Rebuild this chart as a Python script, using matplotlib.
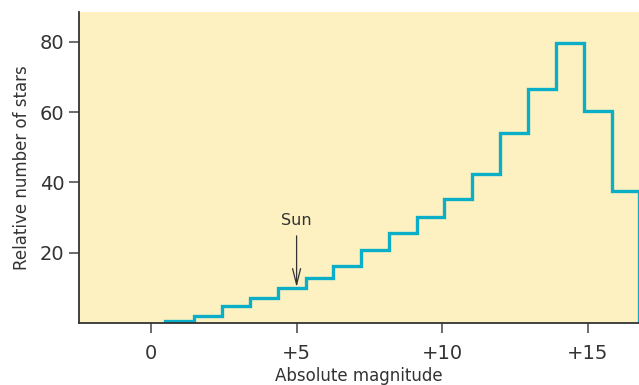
import matplotlib
matplotlib.use("Agg")
import matplotlib.pyplot as plt

# bin edges (absolute magnitude) and relative number of stars per bin
edges = [0.50, 1.49, 2.43, 3.40, 4.37, 5.32, 6.26, 7.21, 8.17, 9.12,
         10.07, 11.02, 11.98, 12.93, 13.90, 14.86, 15.83, 16.75]
counts = [0.6, 2.0, 4.9, 7.2, 9.9, 12.7, 16.3, 20.8, 25.5, 30.2,
          35.3, 42.5, 54.2, 66.5, 79.8, 60.4, 37.5]

xticks = [0, 5, 10, 15]
xtick_labels = ["0", "+5", "+10", "+15"]
yticks = [20, 40, 60, 80]

sun_mag = 5
sun_count = 10.2

plt.rcParams["font.family"] = ["DejaVu Sans"]

fig = plt.figure(figsize=(6.39, 3.85), dpi=100)
ax = fig.add_axes([0.1244, 0.161, 0.8756, 0.808])
ax.set_facecolor("#fdf0c1")

ax.stairs(counts, edges, baseline=0, color="#0aafc7", linewidth=2.4)

ax.annotate("Sun", xy=(sun_mag, sun_count), xytext=(sun_mag, 29.3),
            ha="center", va="center", fontsize=11.5, color="#333333",
            arrowprops=dict(arrowstyle="->,head_length=1.0,head_width=0.25",
                            color="#333333", lw=0.9, shrinkA=4, shrinkB=0))

ax.set_xlim(-2.45, 16.75)
ax.set_ylim(0, 88.5)
ax.set_xticks(xticks)
ax.set_xticklabels(xtick_labels)
ax.set_yticks(yticks)

for s in ["top", "right"]:
    ax.spines[s].set_visible(False)
for s in ["left", "bottom"]:
    ax.spines[s].set_color("#333333")
    ax.spines[s].set_linewidth(1.3)

ax.tick_params(axis="both", length=7, width=1.1, color="#444444",
               labelsize=14, labelcolor="#333333")
ax.tick_params(axis="x", pad=8)
ax.tick_params(axis="y", pad=4)

ax.set_xlabel("Absolute magnitude", fontsize=12, color="#333333", labelpad=3)
ax.set_ylabel("Relative number of stars", fontsize=12, color="#333333", labelpad=6)

fig.savefig("out.png", dpi=100)
